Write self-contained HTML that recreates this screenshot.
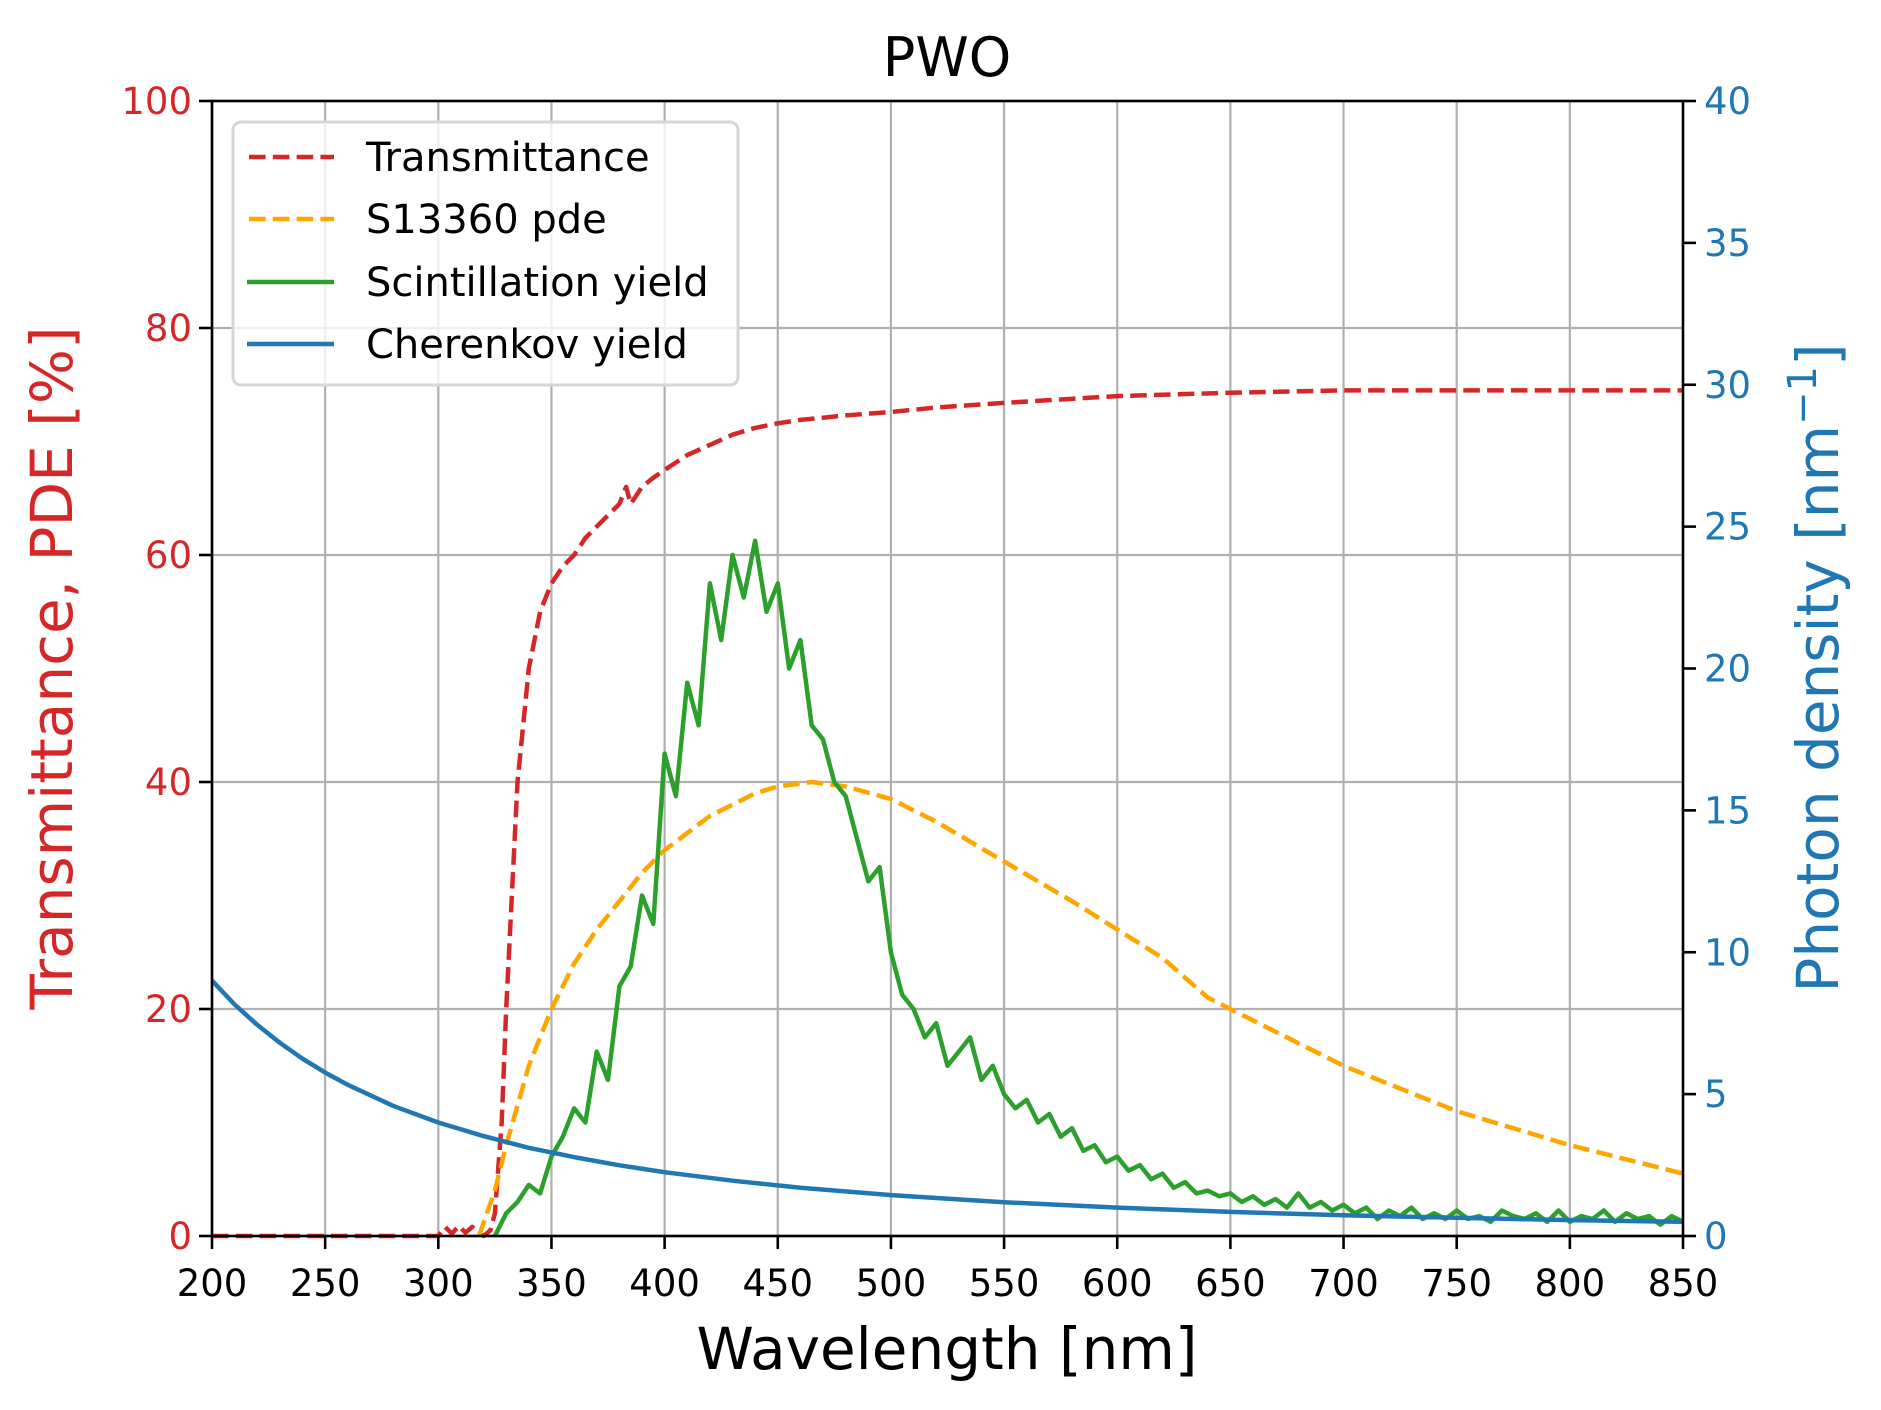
<!DOCTYPE html>
<html><head><meta charset="utf-8">
<style>
html,body{margin:0;padding:0;background:#fff;}
svg{display:block;font-family:"DejaVu Sans","Liberation Sans",sans-serif;}
</style></head>
<body>
<svg id="chart" width="1881" height="1410" viewBox="0 0 1881 1410" xmlns="http://www.w3.org/2000/svg">
<rect width="1881" height="1410" fill="#fff"/>
<g id="grid"></g>
<g id="series"></g>
<g id="axes"></g>
<text x="947" y="76" font-size="54" text-anchor="middle">PWO</text>
<text x="947" y="1369" font-size="58" text-anchor="middle">Wavelength [nm]</text>
<text transform="translate(72,668) rotate(-90)" font-size="58" text-anchor="middle" fill="#d62728">Transmittance, PDE [%]</text>
<text transform="translate(1838,668) rotate(-90)" font-size="58" text-anchor="middle" fill="#1f77b4">Photon density [nm<tspan font-size="40" dy="-22">−1</tspan><tspan dy="22">]</tspan></text>
<g>
<rect x="233" y="122" width="505" height="263" rx="8" fill="#fff" fill-opacity="0.8" stroke="#d6d6d6" stroke-width="3"/>
<line x1="249" y1="157" x2="334" y2="157" stroke="#d62728" stroke-width="4.5" stroke-dasharray="16.6,7.2"/>
<text x="366" y="171" font-size="40">Transmittance</text>
<line x1="249" y1="219" x2="334" y2="219" stroke="#ffa500" stroke-width="4.5" stroke-dasharray="16.6,7.2"/>
<text x="366" y="233" font-size="40">S13360 pde</text>
<line x1="247" y1="282" x2="334" y2="282" stroke="#2ca02c" stroke-width="4.5"/>
<text x="366" y="296" font-size="40">Scintillation yield</text>
<line x1="247" y1="344" x2="334" y2="344" stroke="#1f77b4" stroke-width="4.5"/>
<text x="366" y="358" font-size="40">Cherenkov yield</text>
</g>
</svg>
<script>
const xTicks=[200,250,300,350,400,450,500,550,600,650,700,750,800,850];
const leftTicks=[0,20,40,60,80,100];
const rightTicks=[0,5,10,15,20,25,30,35,40];
const transWl=[200,300,303,306,309,312,315,318,320,323,325,328,330,333,335,338,340,343,345,348,350,355,360,365,370,375,380,383,385,390,395,400,410,420,430,440,450,460,470,480,500,520,550,600,650,700,750,800,850];
const transVal=[0,0,0.8,0.2,0.9,0.3,0.8,0.2,0,0.5,2,10,20,32,40,46,50,53,55,56.5,57.5,59,60,61.5,62.5,63.5,64.5,66,64.5,66,66.8,67.5,68.8,69.7,70.6,71.2,71.6,71.9,72.1,72.3,72.6,73,73.4,74,74.3,74.5,74.5,74.5,74.5];
const pdeWl=[318,325,330,340,350,360,370,380,390,400,410,420,430,440,450,465,480,500,520,550,580,600,620,640,660,700,750,800,850];
const pdeVal=[0,4,8,15,20,24,27,29.5,32,34,35.5,37,38,39,39.6,40,39.6,38.5,36.5,33,29.5,27,24.5,21,19,15,11,8,5.5];
const scWl=[];for(let w=325;w<=850;w+=5)scWl.push(w);
const scVal=[0,0.8,1.2,1.8,1.5,2.8,3.5,4.5,4.0,6.5,5.5,8.8,9.5,12.0,11.0,17.0,15.5,19.5,18.0,23.0,21.0,24.0,22.5,24.5,22.0,23.0,20.0,21.0,18.0,17.5,16.0,15.5,14.0,12.5,13.0,10.0,8.5,8.0,7.0,7.5,6.0,6.5,7.0,5.5,6.0,5.0,4.5,4.8,4.0,4.3,3.5,3.8,3.0,3.2,2.6,2.8,2.3,2.5,2.0,2.2,1.7,1.9,1.5,1.6,1.4,1.5,1.2,1.4,1.1,1.3,1.0,1.5,1.0,1.2,0.9,1.1,0.8,1.0,0.6,0.9,0.7,1.0,0.6,0.8,0.6,0.9,0.6,0.7,0.5,0.9,0.7,0.6,0.8,0.5,0.9,0.5,0.7,0.6,0.9,0.5,0.8,0.6,0.7,0.4,0.7,0.5];
const chWl=[200,210,220,230,240,250,260,280,300,320,340,360,380,400,430,460,500,550,600,650,700,750,800,850];
const chVal=[9.0,8.16,7.44,6.81,6.25,5.76,5.33,4.59,4.0,3.52,3.11,2.78,2.49,2.25,1.95,1.70,1.44,1.19,1.0,0.85,0.73,0.64,0.56,0.50];

const L=212,R=1683,T=101,B=1236;
const xs=w=>L+(w-200)/650*(R-L);
const yl=v=>B-v/100*(B-T);
const yr=v=>B-v/40*(B-T);
const NS='http://www.w3.org/2000/svg';
function mk(tag,attrs,parent){const e=document.createElementNS(NS,tag);for(const k in attrs)e.setAttribute(k,attrs[k]);parent.appendChild(e);return e;}
const grid=document.getElementById('grid'),axes=document.getElementById('axes'),series=document.getElementById('series');
xTicks.forEach(t=>{
  const g=mk('line',{x1:xs(t),x2:xs(t),y1:T,y2:B,stroke:'#b0b0b0','stroke-width':2.2},grid);
  
  
  const tk=mk('line',{x1:xs(t),x2:xs(t),y1:B,y2:B+13,stroke:'#000','stroke-width':2.6},axes);
  
  
  const lb=mk('text',{x:xs(t),y:1296,'font-size':37,'text-anchor':'middle'},axes);lb.textContent=t;
  
  
});
leftTicks.forEach(t=>{
  const g=mk('line',{x1:L,x2:R,y1:yl(t),y2:yl(t),stroke:'#b0b0b0','stroke-width':2.2},grid);
  
  
  const tk=mk('line',{x1:L-13,x2:L,y1:yl(t),y2:yl(t),stroke:'#000','stroke-width':2.6},axes);
  
  
  const lb=mk('text',{x:L-20,y:yl(t)+13,'font-size':37,'text-anchor':'end',fill:'#d62728'},axes);lb.textContent=t;
  
  
});
rightTicks.forEach(t=>{
  const tk=mk('line',{x1:R,x2:R+13,y1:yr(t),y2:yr(t),stroke:'#000','stroke-width':2.6},axes);
  
  
  const lb=mk('text',{x:R+21,y:yr(t)+13,'font-size':37,'text-anchor':'start',fill:'#1f77b4'},axes);lb.textContent=t;
  
  
});
const frame=mk('rect',{x:L,y:T,width:R-L,height:B-T,fill:'none',stroke:'#000','stroke-width':2.6},axes);


function line(wl,val,yf,color,dash,name){
  const pts=wl.map((w,i)=>xs(w).toFixed(1)+','+yf(val[i]).toFixed(1)).join(' ');
  const a={points:pts,fill:'none',stroke:color,'stroke-width':4.5,'stroke-linejoin':'round'};
  if(dash)a['stroke-dasharray']=dash;
  const p=mk('polyline',a,series);
  
  
}
line(transWl,transVal,yl,'#d62728','16.6,7.2','transmittance-line');
line(pdeWl,pdeVal,yl,'#ffa500','16.6,7.2','pde-line');
line(scWl,scVal,yr,'#2ca02c',null,'scintillation-line');
line(chWl,chVal,yr,'#1f77b4',null,'cherenkov-line');
</script>
</body></html>
